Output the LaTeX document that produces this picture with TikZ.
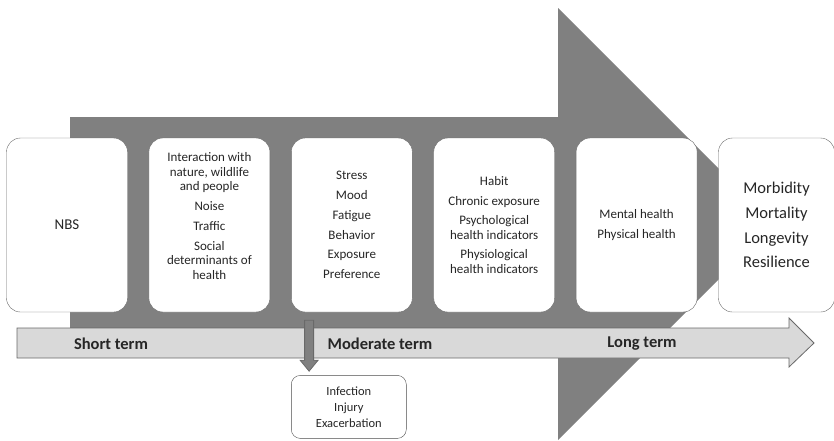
\documentclass[tikz,border=0pt]{standalone}
\usepackage{fontspec}
\setmainfont{Carlito}
\usetikzlibrary{positioning,calc}
\definecolor{bodygray}{RGB}{128,128,128}
\definecolor{termgray}{RGB}{217,217,217}
\definecolor{edgegray}{RGB}{105,105,105}
\tikzset{stage/.style={draw=edgegray, fill=white, rounded corners=14, minimum width=121pt, minimum height=174pt, inner sep=0pt}}
\tikzset{items/.style={align=center, text=black!85, font=\fontsize{13}{14.5}\selectfont}}
\tikzset{term/.style={text=black!85, font=\fontsize{16.5}{18}\selectfont\bfseries}}
\tikzset{harmbox/.style={draw=black!70, fill=white, rounded corners=9, minimum width=115pt, minimum height=63pt, align=center, text=black!85, font=\fontsize{12.5}{16}\selectfont}}
\tikzset{fatarr/.style={draw=edgegray, fill=bodygray, line width=0.8pt}}

\begin{document}
\begin{tikzpicture}[x=1pt, y=-1pt]
			\useasboundingbox (0,0) rectangle (834,440);
			% big arrow behind the stages
			\fill[bodygray] (70,117) -- (558,117) -- (558,8) -- (774,224)
			   -- (558,440) -- (558,328) -- (70,328) -- cycle;
			% stages
			\node[stage] (b1) at (67,225) {};
			\node[stage,right=21pt of b1] (b2) {};
			\node[stage,right=21pt of b2] (b3) {};
			\node[stage,right=21pt of b3] (b4) {};
			\node[stage,right=21pt of b4] (b5) {};
			\node[stage,right=21pt of b5,minimum width=116pt] (b6) {};
			\node[items,font=\fontsize{15}{17}\selectfont] (t1) at (b1.center) {NBS};
			\node[items] (t2) at ([yshift=9pt]b2.center)
			   {Interaction with\\nature, wildlife\\and people\\[5.3pt]Noise\\[5.3pt]Traffic\\[5.3pt]Social\\determinants of\\health};
			\node[items] (t3) at (b3.center)
			   {Stress\\[5.3pt]Mood\\[5.3pt]Fatigue\\[5.3pt]Behavior\\[5.3pt]Exposure\\[5.3pt]Preference};
			\node[items] (t4) at (b4.center)
			   {Habit\\[5pt]Chronic exposure\\[5pt]Psychological\\health indicators\\[5.3pt]Physiological\\health indicators};
			\node[items] (t5) at (b5.center) {Mental health\\[5.3pt]Physical health};
			\node[items,font=\fontsize{16.5}{24.7}\selectfont] (t6) at (b6.center)
			   {Morbidity\\Mortality\\Longevity\\Resilience};
			% time line
			\draw[draw=edgegray, fill=termgray, line width=0.8pt] (17,328) -- (789,328) -- (789,318)
			   -- (814,343) -- (789,367) -- (789,358) -- (17,358) -- cycle;
			\node[term] (short) at (111,344) {Short term};
			\node[term] (moderate) at (380,344) {Moderate term};
			\node[term] (long) at (642,344) {Long term};
			% adverse effects
			\node[harmbox,below=63pt of b3.south west,anchor=north west] (harm) {Infection\\Injury\\Exacerbation};
			\coordinate (dtop) at ($(b3.south west)+(18,8)$);
			\coordinate (dtip) at ($(harm.north west)+(18,-4)$);
			\draw[fatarr] ($(dtop)+(-4.5,0)$) -- ($(dtop)+(4.5,0)$) -- ($(dtip)+(4.5,-11)$)
			   -- ($(dtip)+(9,-11)$) -- (dtip) -- ($(dtip)+(-9,-11)$)
			   -- ($(dtip)+(-4.5,-11)$) -- cycle;
\end{tikzpicture}
\end{document}
